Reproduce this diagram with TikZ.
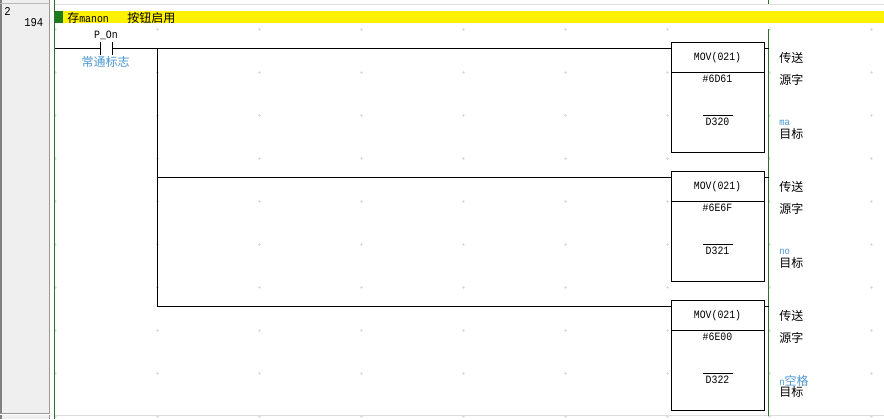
\documentclass[tikz,border=0pt]{standalone}
\usepackage{fontspec}
\setmonofont[FakeStretch=0.88]{Liberation Mono}
\newfontfamily\cjk{Noto Sans CJK SC}
\definecolor{panel}{HTML}{EFEFEF}
\definecolor{railgreen}{HTML}{2F702F}
\definecolor{squaregreen}{HTML}{1F7A1F}
\definecolor{labelblue}{HTML}{4A98D0}
\definecolor{gridgray}{HTML}{DDDDDD}
\definecolor{edgegray}{HTML}{999999}
\tikzset{
  wire/.style={draw=black,line width=0.8pt},
  fbox/.style={draw=black,line width=0.8pt,fill=white},
  code/.style={font=\ttfamily\fontsize{8.4}{9}\selectfont,inner sep=0pt,text=black},
  cn/.style={font=\cjk\fontsize{9}{10}\selectfont,inner sep=0pt,text=black,anchor=west},
  note/.style={font=\cjk\fontsize{9}{10}\selectfont,inner sep=0pt,text=labelblue},
  smallnote/.style={font=\ttfamily\fontsize{7.5}{8}\selectfont,inner sep=0pt,text=labelblue,anchor=west},
  crossmark/.style={draw=gridgray,line width=0.6pt}
}
\begin{document}
\begin{tikzpicture}[x=0.75pt,y=-0.75pt]
\useasboundingbox (0,0) rectangle (884,419);
\fill[white] (0,0) rectangle (884,419);
% left panel
\fill[panel] (0,0) rectangle (50,419);
\draw[gray,line width=1.2pt] (0.8,0) -- (0.8,419);
\draw[edgegray,line width=0.9pt] (49.5,0) -- (49.5,419);
\draw[edgegray!70,line width=0.75pt] (0,3.5) -- (50,3.5);
\fill[white] (0,413) rectangle (50,415);
\draw[edgegray,line width=0.75pt] (0,413.5) -- (50,413.5);
% grid
\draw[gridgray,line width=0.75pt] (55,4.5) -- (884,4.5);
\draw[gridgray,line width=0.75pt] (55,415.5) -- (884,415.5);
\foreach \gx in {55,157,259,361,463,565,667,769,871}{
  \foreach \gy in {29,72,115,158,201,244,287,330,373,416}{
    \draw[crossmark] (\gx-1.5,\gy) -- (\gx+1.5,\gy) (\gx,\gy-1.5) -- (\gx,\gy+1.5);
  }
}
% header
\fill[yellow] (55,11) rectangle (884,23);
\fill[squaregreen] (55,11) rectangle (63,23);
\node[font=\cjk\fontsize{9}{10}\selectfont,inner sep=0pt,anchor=west] (cmt1) at (67,17.5) {存\texttt{\fontsize{8.4}{9}\selectfont manon}};
\node[cn] (cmt2) at (127,17.5) {按钮启用};
% rung labels
\node[font=\ttfamily\fontsize{9}{9}\selectfont,inner sep=0pt,anchor=west] (sec) at (4,11) {2};
\node[font=\ttfamily\fontsize{9}{9}\selectfont,inner sep=0pt,anchor=west] (rung) at (24,23) {194};
% power rails
\draw[railgreen,line width=1pt] (54.5,0) -- (54.5,419);
\draw[railgreen,line width=1pt] (768.5,0) -- (768.5,4);
\draw[railgreen,line width=1pt] (768.5,29) -- (768.5,416);
% contact
\coordinate (railL) at (55,48.5);
\coordinate (cL) at (100.5,48.5);
\coordinate (cR) at (112.5,48.5);
\coordinate (bus) at (157.5,48.5);
\coordinate (bus2) at (157.5,177.5);
\coordinate (bus3) at (157.5,306.5);
\draw[wire] (railL) -- (cL);
\draw[wire] (100.5,42) -- (100.5,55);
\draw[wire] (112.5,42) -- (112.5,55);
\node[code] (pon) at (106,35) {P\_On};
\node[note] (pnote) at (105.5,61.5) {常通标志};
% boxes
\foreach \n/\top/\src/\dst in {a/42/\#6D61/D320,b/171/\#6E6F/D321,c/300/\#6E00/D322}{
  \draw[fbox] (671.5,\top.5) rectangle (764.5,\top.5+110);
  \coordinate (\n w) at (671.5,\top+6.5);
  \coordinate (\n e) at (764.5,\top+6.5);
  \coordinate (\n o) at (768.5,\top+6.5);
  \draw[wire] (\n e) -- (\n o);
  \draw[wire] (671.5,\top+30.5) -- (764.5,\top+30.5);
  \node[code] (\n op) at (717.5,\top+15.5) {MOV(021)};
  \node[code] (\n src) at (717.5,\top+37) {\src};
  \node[code] (\n dst) at (717.5,\top+80) {\dst};
  \draw[black,line width=0.7pt] (703,\top+73.5) -- (733,\top+73.5);
  \node[cn] (\n t1) at (779,\top+15.5) {传送};
  \node[cn] (\n t2) at (779,\top+37.5) {源字};
  \node[cn] (\n t3) at (779,\top+92) {目标};
}
\draw[wire] (cR) -- (aw);
\draw[wire] (bus) -- (bus3);
\draw[wire] (bus2) -- (bw);
\draw[wire] (bus3) -- (cw);
\node[smallnote] (n1) at (779,123) {ma};
\node[smallnote] (n2) at (779,252) {no};
\node[note,anchor=west] (n3) at (779,380.5) {\texttt{\fontsize{7.5}{8}\selectfont n}空格};
\end{tikzpicture}
\end{document}
